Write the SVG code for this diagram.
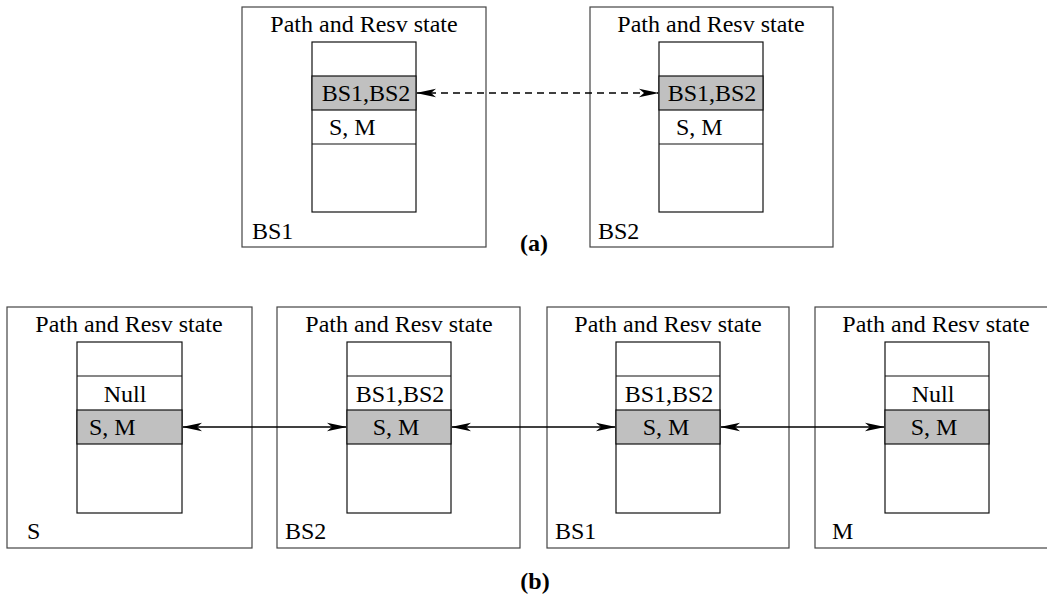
<svg xmlns="http://www.w3.org/2000/svg" width="1047" height="602" viewBox="0 0 1047 602" font-family="'Liberation Serif', 'Times New Roman', Times, serif" font-size="24">
<style>
.box{fill:#fff;stroke:#444;stroke-width:1.2}
.tbl{fill:#fff;stroke:#111;stroke-width:1.2}
.gray{fill:#c0c0c0;stroke:#111;stroke-width:1.2}
.row{stroke:#111;stroke-width:1.2}
.c{text-anchor:middle}
.lbl{font-weight:bold}
.arr{stroke:#000;stroke-width:1.4;fill:none;marker-start:url(#ah);marker-end:url(#ah)}
.dash{stroke-dasharray:7,5}
</style>
<defs>
<marker id="ah" viewBox="0 0 20 10" markerWidth="20" markerHeight="10" refX="19" refY="5" orient="auto-start-reverse" markerUnits="userSpaceOnUse">
<path d="M0,0.8 L20,5 L0,9.2 L5,5 Z" fill="#000"/>
</marker>
</defs>

<g id="a-bs1">
<rect class="box" x="242" y="7" width="244" height="240"/>
<text class="c" x="364" y="32">Path and Resv state</text>
<rect class="tbl" x="312" y="42" width="104" height="170"/>
<rect class="gray" x="312" y="76" width="104" height="34"/>
<line class="row" x1="312" y1="144" x2="416" y2="144"/>
<text class="c" x="366" y="101">BS1,BS2</text>
<text x="329" y="135">S, M</text>
<text x="252" y="239">BS1</text>
</g>

<g id="a-bs2">
<rect class="box" x="590" y="7" width="243" height="240"/>
<text class="c" x="711" y="32">Path and Resv state</text>
<rect class="tbl" x="659" y="42" width="104" height="170"/>
<rect class="gray" x="659" y="76" width="104" height="34"/>
<line class="row" x1="659" y1="144" x2="763" y2="144"/>
<text class="c" x="712" y="101">BS1,BS2</text>
<text x="676" y="135">S, M</text>
<text x="598" y="239">BS2</text>
</g>

<g id="label-a"><text class="c lbl" x="534" y="251">(a)</text></g>

<g id="b-s">
<rect class="box" x="7" y="307" width="245" height="241"/>
<text class="c" x="129" y="332">Path and Resv state</text>
<rect class="tbl" x="77" y="342" width="105" height="171"/>
<line class="row" x1="77" y1="376" x2="182" y2="376"/>
<rect class="gray" x="77" y="410" width="105" height="34"/>
<text class="c" x="125" y="402">Null</text>
<text x="89" y="435">S, M</text>
<text x="27" y="539">S</text>
</g>

<g id="b-bs2">
<rect class="box" x="277" y="307" width="243" height="241"/>
<text class="c" x="399" y="332">Path and Resv state</text>
<rect class="tbl" x="347" y="342" width="104" height="171"/>
<line class="row" x1="347" y1="376" x2="451" y2="376"/>
<rect class="gray" x="347" y="410" width="104" height="34"/>
<text class="c" x="400" y="402">BS1,BS2</text>
<text class="c" x="396" y="435">S, M</text>
<text x="285" y="539">BS2</text>
</g>

<g id="b-bs1">
<rect class="box" x="547" y="307" width="242" height="241"/>
<text class="c" x="668" y="332">Path and Resv state</text>
<rect class="tbl" x="616" y="342" width="104" height="171"/>
<line class="row" x1="616" y1="376" x2="720" y2="376"/>
<rect class="gray" x="616" y="410" width="104" height="34"/>
<text class="c" x="669" y="402">BS1,BS2</text>
<text class="c" x="666" y="435">S, M</text>
<text x="555" y="539">BS1</text>
</g>

<g id="b-m">
<rect class="box" x="815" y="307" width="242" height="241"/>
<text class="c" x="936" y="332">Path and Resv state</text>
<rect class="tbl" x="885" y="342" width="104" height="171"/>
<line class="row" x1="885" y1="376" x2="989" y2="376"/>
<rect class="gray" x="885" y="410" width="104" height="34"/>
<text class="c" x="933" y="402">Null</text>
<text class="c" x="934" y="435">S, M</text>
<text x="832" y="539">M</text>
</g>

<g id="label-b"><text class="c lbl" x="535" y="589">(b)</text></g>

<g id="connectors">
<line class="arr dash" x1="417" y1="93" x2="658" y2="93"/>
<line class="arr" x1="183" y1="427" x2="346" y2="427"/>
<line class="arr" x1="452" y1="427" x2="615" y2="427"/>
<line class="arr" x1="721" y1="427" x2="884" y2="427"/>
</g>
</svg>
